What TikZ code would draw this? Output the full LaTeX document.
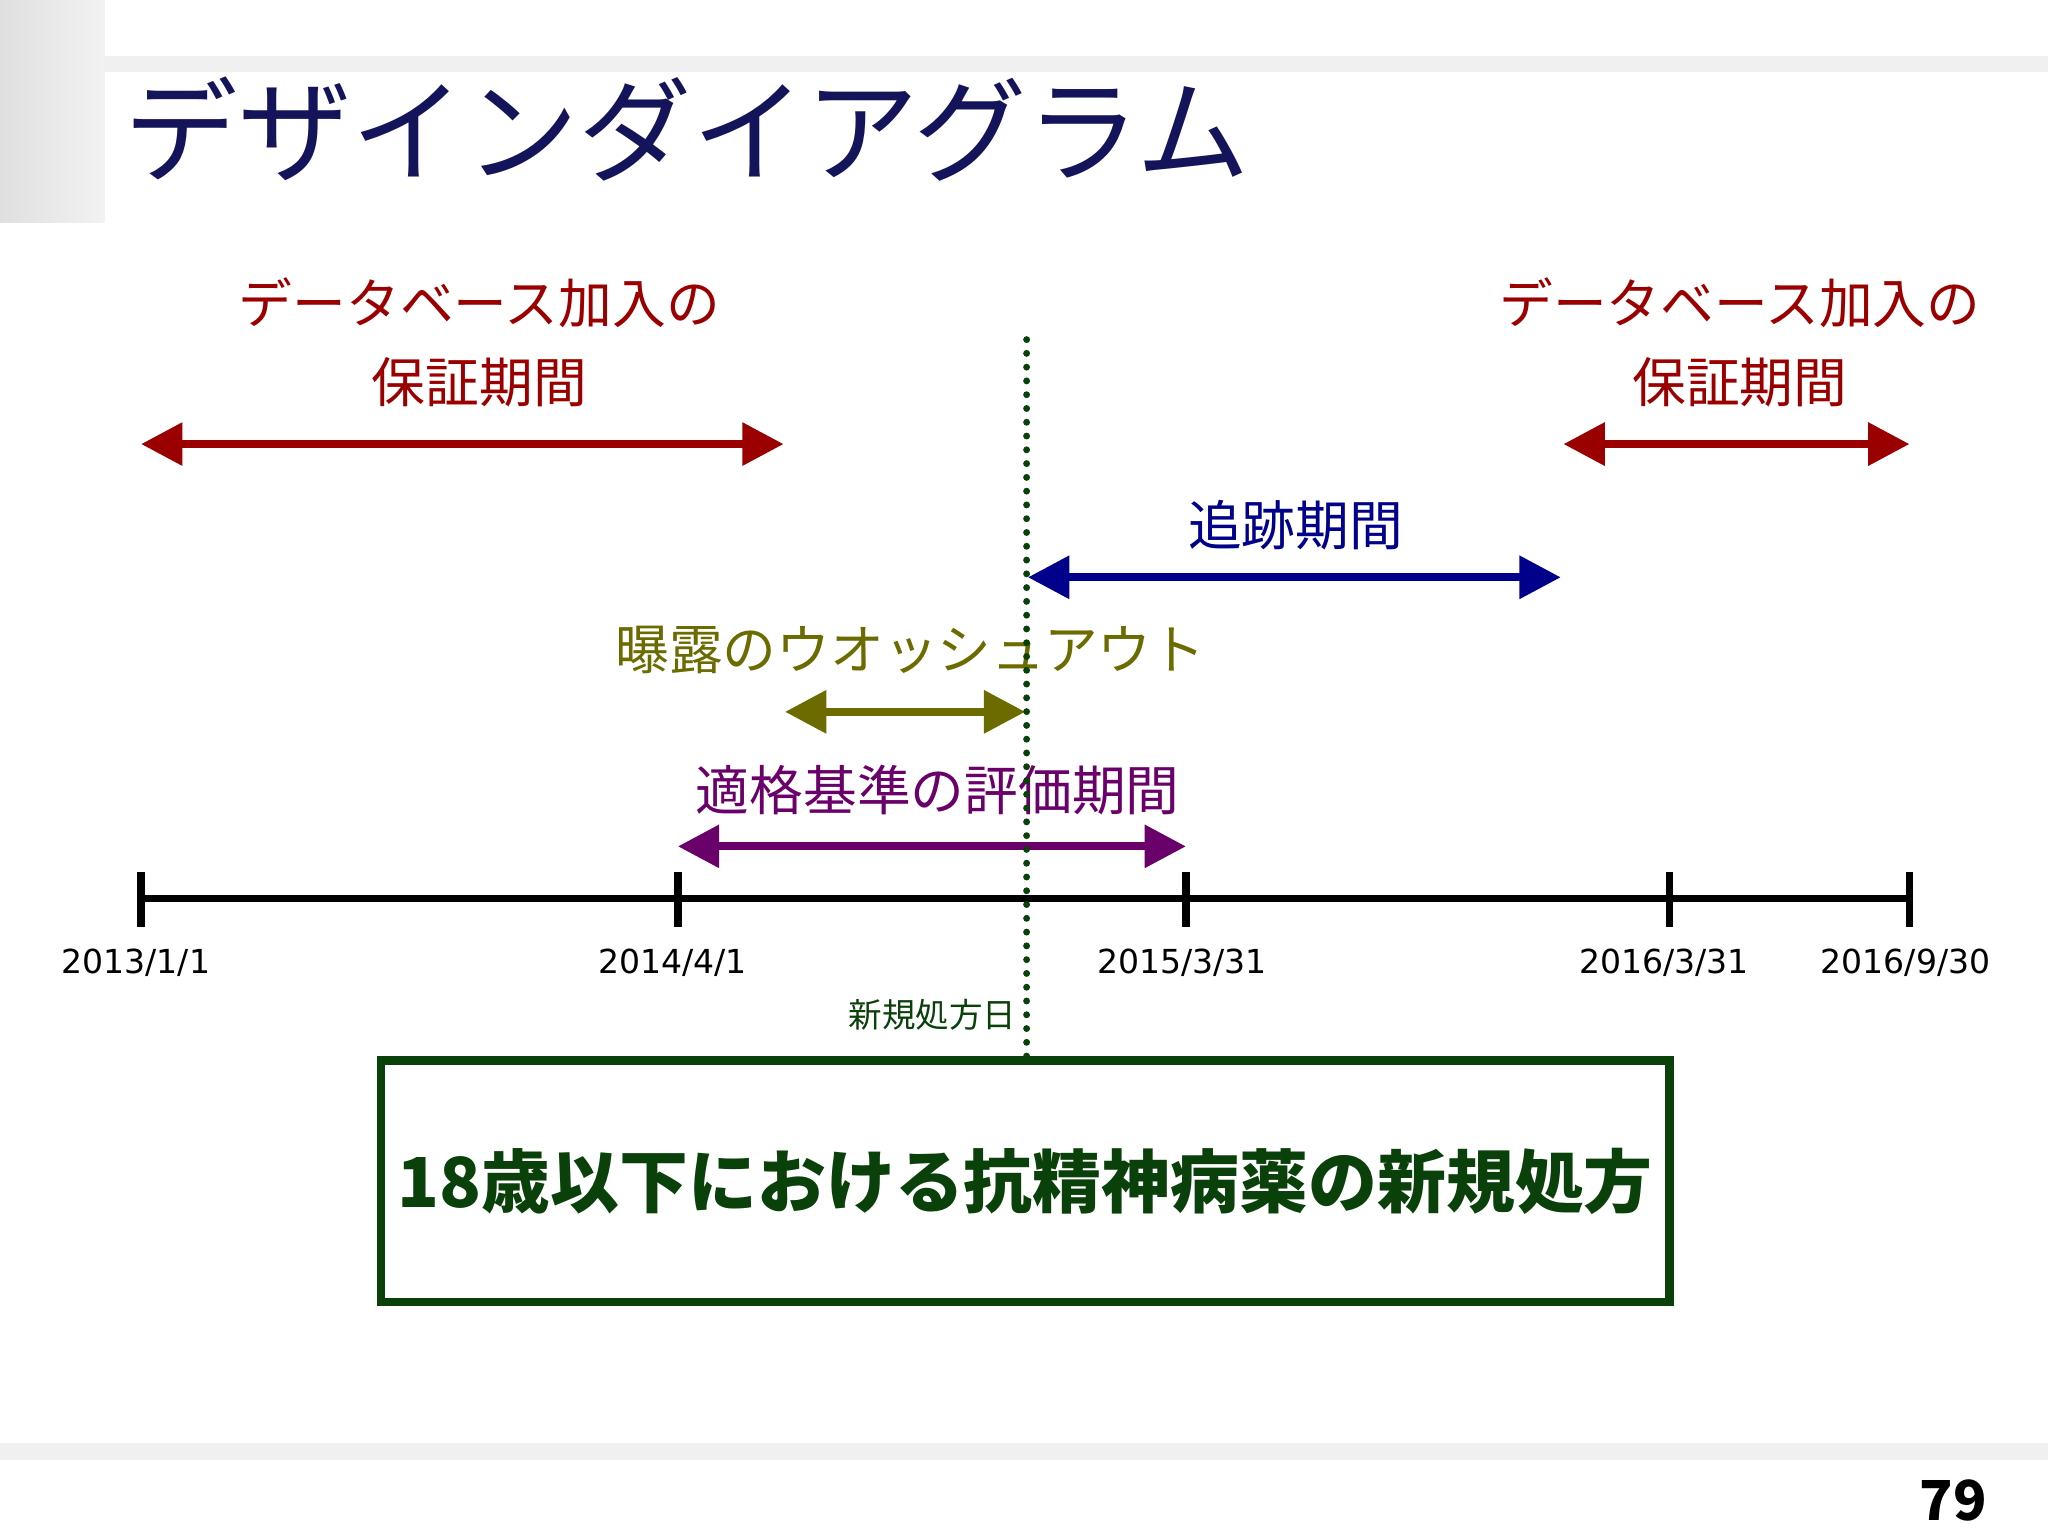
\documentclass[tikz,border=0pt]{standalone}
\usepackage{fontspec}
\setmainfont{Noto Sans CJK JP}
\newfontfamily\datefont{DejaVu Sans}
\usetikzlibrary{arrows.meta}
\definecolor{navy}{HTML}{14145A}
\definecolor{dred}{HTML}{9B0000}
\definecolor{dblue}{HTML}{00008B}
\definecolor{olive}{HTML}{6B6B00}
\definecolor{purp}{HTML}{6A006A}
\definecolor{dgreen}{HTML}{0A400A}
\tikzset{
  lbl/.style={inner sep=0pt,font=\fontsize{11.7pt}{12pt}\selectfont},
  dbl/.style={line width=1.8pt,{Triangle[length=9pt,width=9pt]}-{Triangle[length=9pt,width=9pt]}},
  datel/.style={inner sep=0pt,font=\datefont\fontsize{7.2pt}{8pt}\selectfont},
  tick/.style={line width=1.6pt},
}
\begin{document}
\begin{tikzpicture}[x=0.01cm,y=-0.01cm]
\useasboundingbox (0,0) rectangle (1568,1176);
\fill[white] (0,0) rectangle (1568,1176);
\shade[left color=gray!25,right color=gray!10] (0,0) rectangle (80,170);
\fill[gray!12] (80,43) rectangle (1568,55);
\fill[gray!12] (0,1105) rectangle (1568,1118);
\node[anchor=base west,inner sep=0pt,text=navy,font=\fontsize{24.7pt}{26pt}\selectfont] (title) at (95,133) {デザインダイアグラム};
\node[anchor=base east,inner sep=0pt,font=\bfseries\fontsize{12pt}{13pt}\selectfont] (pg) at (1522,1164) {79};
% red
\node[lbl,text=dred] (r1a) at (367,232) {データベース加入の};
\node[lbl,text=dred] (r1b) at (367,293) {保証期間};
\node[lbl,text=dred] (r2a) at (1332,232) {データベース加入の};
\node[lbl,text=dred] (r2b) at (1332,293) {保証期間};
\coordinate (ra1) at (108,340); \coordinate (ra2) at (600,340);
\coordinate (rb1) at (1197,340); \coordinate (rb2) at (1462,340);
\draw[dbl,dred] (ra1) -- (ra2);
\draw[dbl,dred] (rb1) -- (rb2);
% blue
\node[lbl,text=dblue] (bl) at (992,402) {追跡期間};
\coordinate (b1) at (787,442); \coordinate (b2) at (1195,442);
\draw[dbl,dblue] (b1) -- (b2);
% olive
\node[lbl,text=olive] (ol) at (697,498) {曝露のウオッシュアウト};
\coordinate (o1) at (601,545); \coordinate (o2) at (785,545);
\draw[dbl,olive] (o1) -- (o2);
% purple
\node[lbl,text=purp] (pu) at (718,605) {適格基準の評価期間};
\coordinate (p1) at (519,648); \coordinate (p2) at (908,648);
\draw[dbl,purp] (p1) -- (p2);
% timeline
\coordinate (t0) at (108,688); \coordinate (t4) at (1462,688);
\draw[line width=1.6pt] (t0) -- (t4);
\foreach \x/\n in {108/a,519/b,908/c,1278/d,1462/e}{
  \coordinate (tk\n) at (\x,668); \coordinate (tb\n) at (\x,710);
  \draw[tick] (tk\n) -- (tb\n);}
\node[datel] (d1) at (104,737) {2013/1/1};
\node[datel] (d2) at (515,737) {2014/4/1};
\node[datel] (d3) at (905,737) {2015/3/31};
\node[datel] (d4) at (1274,737) {2016/3/31};
\node[datel] (d5) at (1459,737) {2016/9/30};
% box
\node[draw=dgreen,line width=1.8pt,minimum width=9.86cm,minimum height=1.85cm,inner sep=0pt,text=dgreen,font=\bfseries\fontsize{15pt}{16pt}\selectfont] (box) at (785,904.5) {18歳以下における抗精神病薬の新規処方};
% dotted
\coordinate (v1) at (786,260);
\draw[dgreen,line width=1.5pt,line cap=round,dash pattern=on 0pt off 3pt] (v1) -- (v1 |- box.north);
\node[inner sep=0pt,text=dgreen,font=\fontsize{7.3pt}{8pt}\selectfont] (nd) at (714,777) {新規処方日};
\end{tikzpicture}
\end{document}
